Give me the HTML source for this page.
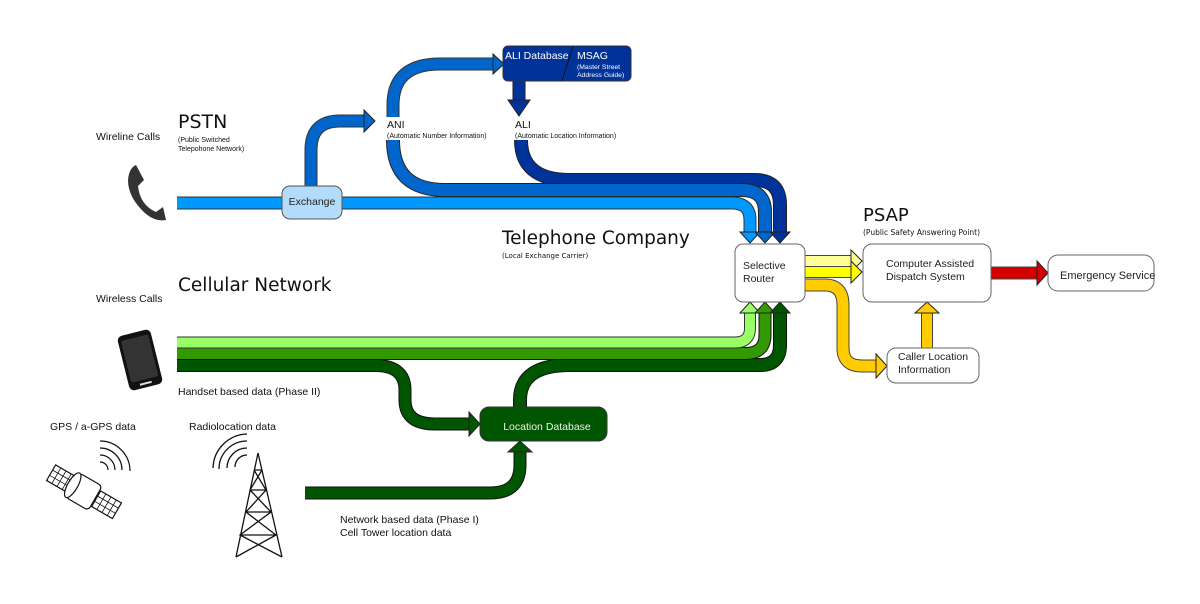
<!DOCTYPE html>
<html><head><meta charset="utf-8"><style>
html,body{margin:0;padding:0;background:#fff;}
svg{display:block;font-family:"DejaVu Sans","Liberation Sans",sans-serif;}
.l{font-family:"Liberation Sans",sans-serif;}
</style></head><body>
<svg width="1200" height="604" viewBox="0 0 1200 604" xmlns="http://www.w3.org/2000/svg">
<rect width="1200" height="604" fill="#fff"/>
<g fill="none" stroke-linecap="butt">
<path d="M393 117 L393 105 Q393 64 440 64 L493 64" stroke="#333" stroke-width="13"/>
<path d="M393 117 L393 105 Q393 64 440 64 L494 64" stroke="#0066cc" stroke-width="11"/>
<path d="M311 187 L311 150 Q311 121 340 121 L364 121" stroke="#333" stroke-width="13"/>
<path d="M311 187 L311 150 Q311 121 340 121 L365 121" stroke="#0066cc" stroke-width="11"/>
<path d="M521 140 Q521 180 570 180 L755 180 Q780 180 780 205 L780 233" stroke="#222" stroke-width="14"/>
<path d="M521 140 Q521 180 570 180 L755 180 Q780 180 780 205 L780 234" stroke="#003399" stroke-width="12"/>
<path d="M393 140 Q393 190 445 190 L742 190 Q765 190 765 212 L765 233" stroke="#222" stroke-width="14"/>
<path d="M393 140 Q393 190 445 190 L742 190 Q765 190 765 212 L765 234" stroke="#0066cc" stroke-width="12"/>
<path d="M177 203 L732 203 Q750 203 750 220 L750 233" stroke="#333" stroke-width="13"/>
<path d="M177 203 L732 203 Q750 203 750 220 L750 234" stroke="#0099ff" stroke-width="11"/>
<path d="M519 81 L519 101" stroke="#222" stroke-width="13"/>
<path d="M519 81 L519 102" stroke="#003399" stroke-width="11"/>
<path d="M177 365.5 L375 365.5 Q405 365.5 405 390 L405 400 Q405 424 435 424 L469 424" stroke="#111" stroke-width="13"/>
<path d="M177 365.5 L375 365.5 Q405 365.5 405 390 L405 400 Q405 424 435 424 L470 424" stroke="#005500" stroke-width="11"/>
<path d="M305 493 L490 493 Q520 493 520 465 L520 452" stroke="#111" stroke-width="13"/>
<path d="M305 493 L490 493 Q520 493 520 465 L520 451" stroke="#005500" stroke-width="11"/>
<path d="M520 407 L520 400 Q520 365 570 365 L760 365 Q780 365 780 345 L780 313" stroke="#111" stroke-width="14"/>
<path d="M520 407 L520 400 Q520 365 570 365 L760 365 Q780 365 780 345 L780 312" stroke="#005500" stroke-width="12"/>
<path d="M177 353.5 L745 353.5 Q765 353.5 765 335 L765 313" stroke="#111" stroke-width="13"/>
<path d="M177 353.5 L745 353.5 Q765 353.5 765 335 L765 312" stroke="#339900" stroke-width="11"/>
<path d="M177 342.5 L735 342.5 Q750 342.5 750 328 L750 313" stroke="#333" stroke-width="12"/>
<path d="M177 342.5 L735 342.5 Q750 342.5 750 328 L750 312" stroke="#99ff66" stroke-width="10"/>
<path d="M805 261 L851 261" stroke="#444" stroke-width="12"/>
<path d="M805 261 L852 261" stroke="#ffff99" stroke-width="10"/>
<path d="M805 272 L851 272" stroke="#444" stroke-width="12"/>
<path d="M805 272 L852 272" stroke="#ffff00" stroke-width="10"/>
<path d="M805 285 L825 285 Q843 285 843 305 L843 348 Q843 366 862 366 L876 366" stroke="#444" stroke-width="13"/>
<path d="M805 285 L825 285 Q843 285 843 305 L843 348 Q843 366 862 366 L877 366" stroke="#ffcc00" stroke-width="11"/>
<path d="M927 348 L927 313" stroke="#444" stroke-width="12"/>
<path d="M927 348 L927 312" stroke="#ffcc00" stroke-width="10"/>
<path d="M991 273 L1037 273" stroke="#444" stroke-width="13"/>
<path d="M991 273 L1038 273" stroke="#d40000" stroke-width="11"/>
</g>
<g stroke="#222" stroke-width="1">
<polygon points="493,54 504,64 493,74" fill="#0066cc"/>
<polygon points="364,110 375,121 364,132" fill="#0066cc"/>
<polygon points="508,100 530,100 519,116" fill="#003399"/>
<polygon points="740,232 760,232 750,243" fill="#0099ff"/>
<polygon points="755,232 775,232 765,243" fill="#0066cc"/>
<polygon points="770,232 790,232 780,243" fill="#003399"/>
<polygon points="740,313 760,313 750,302" fill="#99ff66"/>
<polygon points="755,313 775,313 765,302" fill="#339900"/>
<polygon points="770,313 790,313 780,302" fill="#005500"/>
<polygon points="469,412 480,424 469,436" fill="#005500"/>
<polygon points="508,452 532,452 520,441" fill="#005500"/>
<polygon points="851,250 862,261 851,272" fill="#ffff99"/>
<polygon points="851,261 862,272 851,283" fill="#ffff00"/>
<polygon points="876,354 887,366 876,378" fill="#ffcc00"/>
<polygon points="915,313 939,313 927,302" fill="#ffcc00"/>
<polygon points="1037,261 1048,273 1037,285" fill="#d40000"/>
</g>
<rect x="503" y="46" width="128" height="35" rx="5" fill="#003399" stroke="#333"/>
<line x1="573" y1="46" x2="562" y2="81" stroke="#111"/>
<text class="l" x="505" y="59" font-size="10.5" fill="#fff">ALI Database</text>
<text class="l" x="577" y="59" font-size="10.5" fill="#fff">MSAG</text>
<text class="l" x="577" y="69" font-size="6.8" fill="#fff">(Master Street</text>
<text class="l" x="577" y="77" font-size="6.8" fill="#fff">Address Guide)</text>
<rect x="282" y="186" width="60" height="33" rx="8" fill="#b3dcfa" stroke="#555"/>
<text class="l" x="312" y="205" font-size="10.5" text-anchor="middle" fill="#222">Exchange</text>
<rect x="735" y="244" width="70" height="58" rx="8" fill="#fff" stroke="#666"/>
<text class="l" x="743" y="269" font-size="10.5" fill="#222">Selective</text>
<text class="l" x="743" y="282" font-size="10.5" fill="#222">Router</text>
<rect x="863" y="244" width="128" height="58" rx="9" fill="#fff" stroke="#666"/>
<text class="l" x="886" y="267" font-size="10.5" fill="#222">Computer Assisted</text>
<text class="l" x="886" y="280" font-size="10.5" fill="#222">Dispatch System</text>
<rect x="1048" y="255" width="106" height="36" rx="10" fill="#fff" stroke="#666"/>
<text class="l" x="1060" y="279" font-size="11" fill="#222">Emergency Service</text>
<rect x="887" y="348" width="92" height="35" rx="9" fill="#fff" stroke="#666"/>
<text class="l" x="898" y="360" font-size="10.5" fill="#222">Caller Location</text>
<text class="l" x="898" y="373" font-size="10.5" fill="#222">Information</text>
<rect x="480" y="407" width="127" height="34" rx="9" fill="#005500" stroke="#333"/>
<text class="l" x="547" y="430" font-size="10.5" text-anchor="middle" fill="#e8f4e8">Location Database</text>
<g fill="#111">
<text x="178" y="128" font-size="19">PSTN</text>
<text class="l" x="178" y="142" font-size="7">(Public Switched</text>
<text class="l" x="178" y="151" font-size="7">Telepohone Network)</text>
<text class="l" x="96" y="140" font-size="10.5">Wireline Calls</text>
<text x="178" y="291" font-size="18.5">Cellular Network</text>
<text class="l" x="96" y="302" font-size="10.5">Wireless Calls</text>
<text class="l" x="387" y="128" font-size="10.5">ANI</text>
<text class="l" x="387" y="138" font-size="7">(Automatic Number Information)</text>
<text class="l" x="515" y="128" font-size="10.5">ALI</text>
<text class="l" x="515" y="138" font-size="7">(Automatic Location Information)</text>
<text x="502" y="244" font-size="18.5">Telephone Company</text>
<text x="502" y="258" font-size="7">(Local Exchange Carrier)</text>
<text x="863" y="221" font-size="18">PSAP</text>
<text x="863" y="235" font-size="7.5">(Public Safety Answering Point)</text>
<text class="l" x="178" y="395" font-size="10.5">Handset based data (Phase II)</text>
<text class="l" x="50" y="430" font-size="10.5">GPS / a-GPS data</text>
<text class="l" x="189" y="430" font-size="10.5">Radiolocation data</text>
<text class="l" x="340" y="523" font-size="10.5">Network based data (Phase I)</text>
<text class="l" x="340" y="536" font-size="10.5">Cell Tower location data</text>
</g>
<path d="M136 165 L144 180 L138 186 Q140 205 156 212 L163 207 L166 220 Q156 222 146 214 Q128 198 128 180 Q129 168 136 165 Z" fill="#333"/>
<g transform="rotate(-14 140 360)">
<rect x="123" y="332" width="34" height="56" rx="5" fill="#111"/>
<rect x="126" y="337" width="28" height="43" rx="2" fill="#333"/>
<rect x="134" y="383" width="12" height="2" fill="#ddd"/>
</g>
<g stroke="#111" fill="#fff" stroke-width="1.2">
<g transform="rotate(30 85 490)">
<rect x="47" y="483" width="24" height="18"/>
<rect x="99" y="483" width="24" height="18"/>
<path d="M53 483v18M59 483v18M65 483v18M47 489h24M47 495h24M105 483v18M111 483v18M117 483v18M99 489h24M99 495h24" fill="none" stroke-width="0.8"/>
<rect x="72" y="478" width="26" height="28" rx="4"/>
<ellipse cx="72" cy="492" rx="5" ry="14"/>
</g>
<path d="M100 462 a8 8 0 0 1 8 8 M100 455 a15 15 0 0 1 15 15 M100 448 a22 22 0 0 1 22 22 M100 441 a30 30 0 0 1 30 30" fill="none"/>
</g>
<g stroke="#111" fill="none" stroke-width="1.3">
<path d="M258 453 L236 557 M258 453 L282 557 M254 470 L262 470 M250 490 L266 490 M246 512 L271 512 M240 535 L276 535 M254 470 L266 490 L246 512 L276 535 L236 557 M262 470 L250 490 L271 512 L240 535 L282 557"/>
<path d="M247 455 a12 12 0 0 0 -12 12 M247 448 a20 20 0 0 0 -20 20 M247 441 a28 28 0 0 0 -28 28 M247 434 a35 35 0 0 0 -34 34"/>
</g>
</svg>
</body></html>
